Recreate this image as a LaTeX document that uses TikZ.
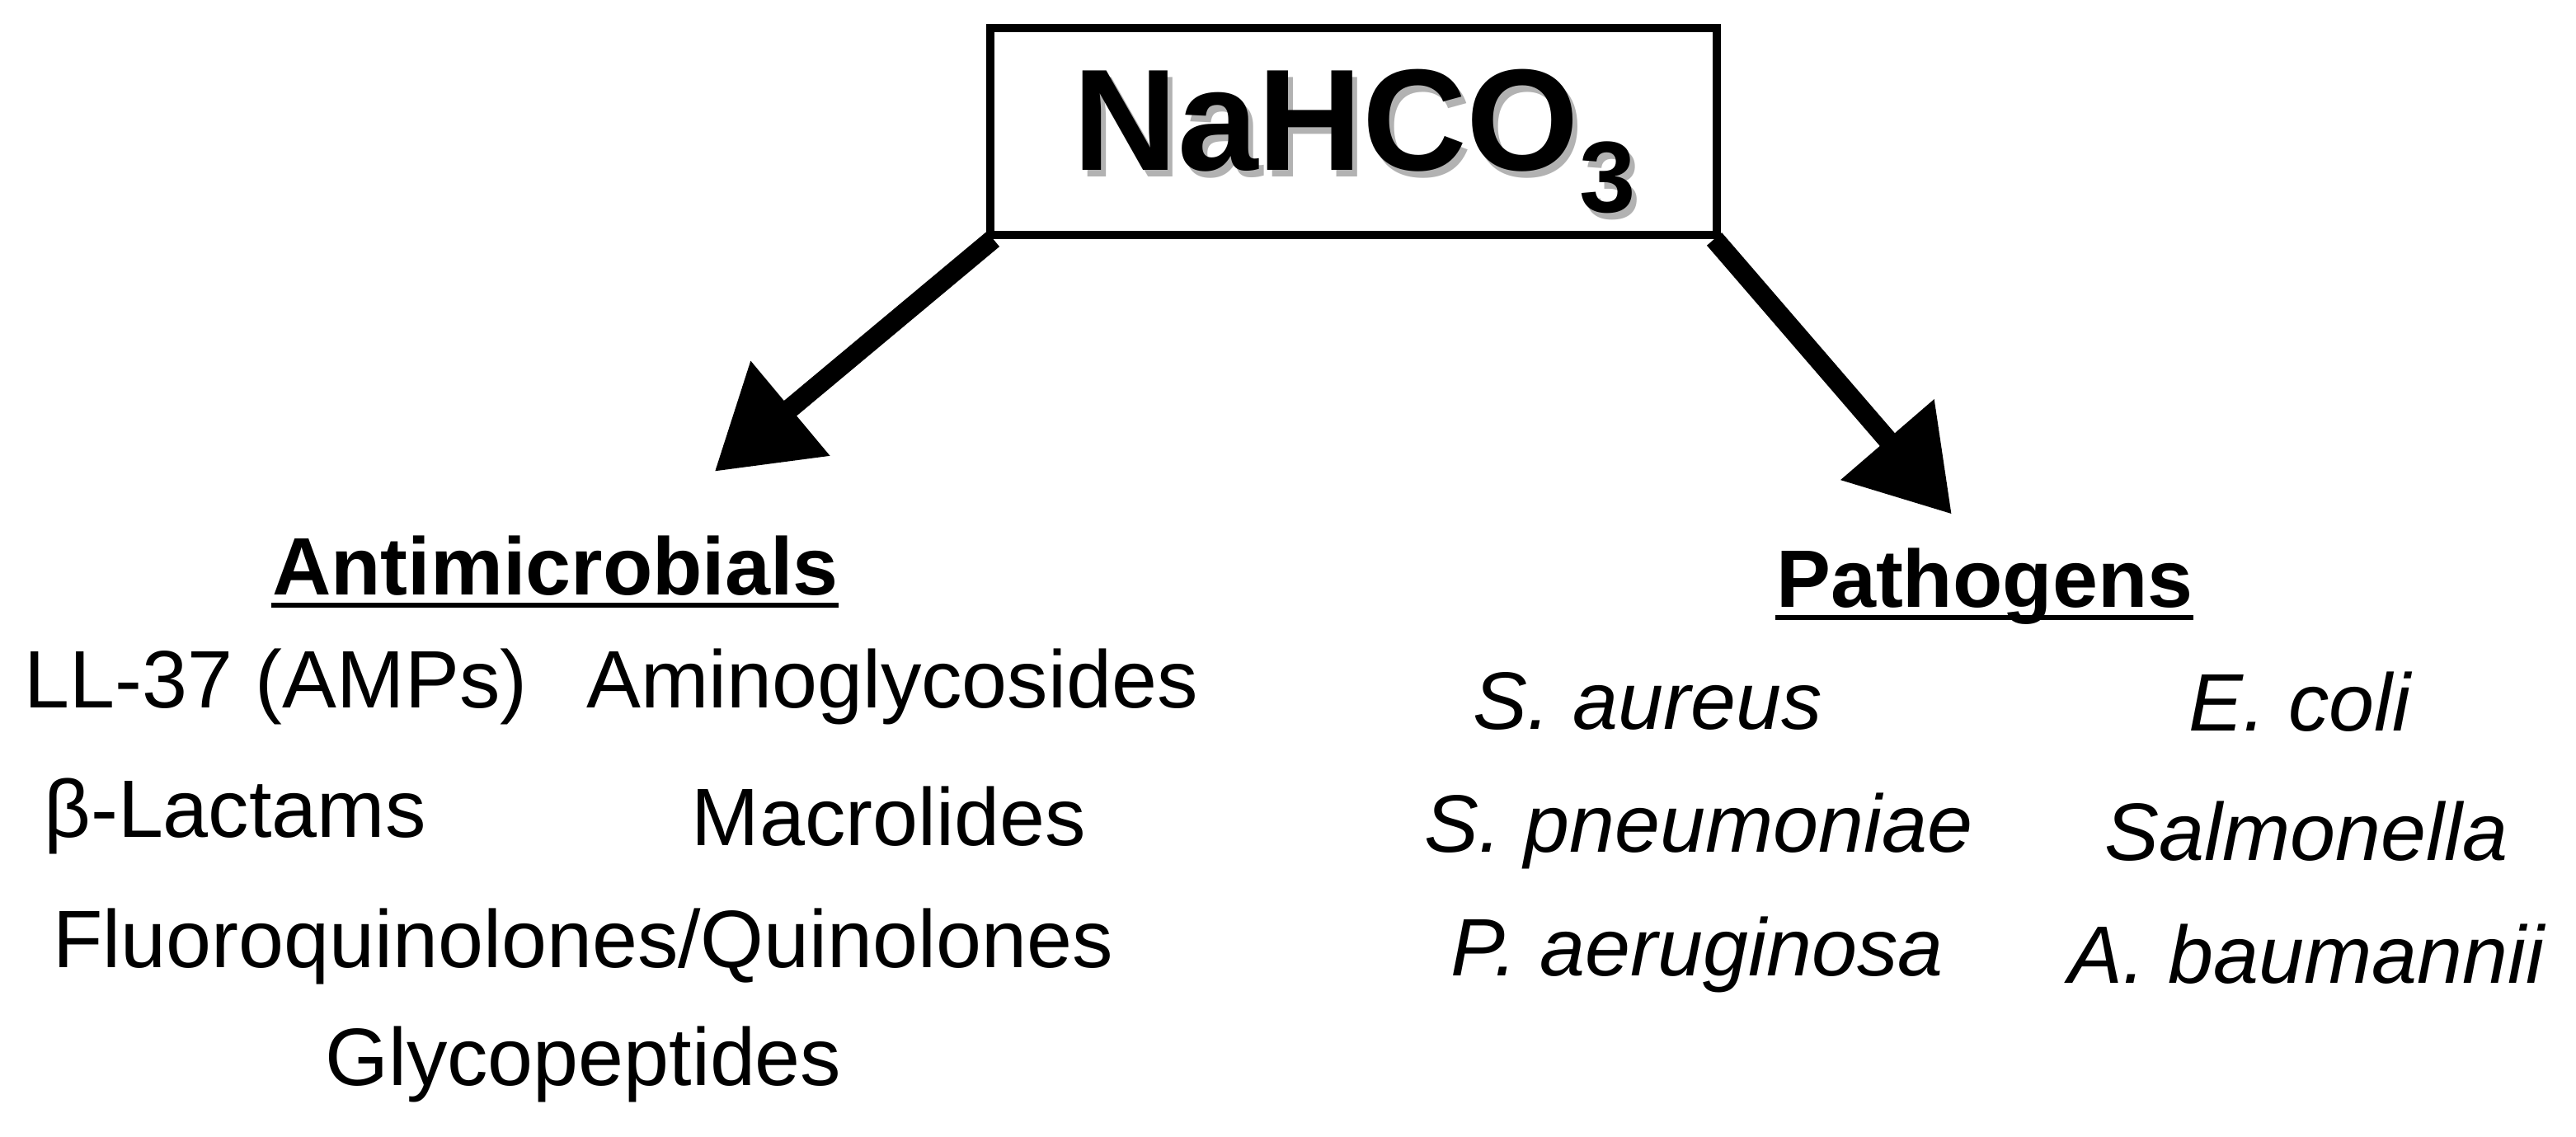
\documentclass[tikz,border=0pt]{standalone}
\usepackage{fontspec}
\setmainfont{Liberation Sans}
\usetikzlibrary{arrows.meta}
\newcommand{\ul}[1]{\tikz[baseline=(u.base)]{\node[inner sep=0](u){#1};\draw[line width=1.5pt]([yshift=-3pt]u.base west)--([yshift=-3pt]u.base east);}}
\begin{document}
\begin{tikzpicture}[x=0.5pt,y=-0.5pt,
  lbl/.style={font=\fontsize{24.8}{28}\selectfont,anchor=center,inner sep=0},
  it/.style={lbl,font=\fontsize{24.8}{28}\selectfont\itshape},
  hd/.style={lbl,font=\fontsize{24.8}{28}\selectfont\bfseries},
  big/.style={line width=6pt,-{Triangle[length=30pt,width=36pt]}}]
\useasboundingbox (0,0) rectangle (1568,692);
\node[draw,line width=2.5pt,minimum width=221pt,minimum height=63pt,inner sep=0] (box) at (824,80) {};
\node[font=\fontsize{44}{48}\selectfont\bfseries,text=gray!60] at (828,90) {NaHCO\textsubscript{3}};
\node[font=\fontsize{44}{48}\selectfont\bfseries] (na) at (825,86) {NaHCO\textsubscript{3}};
\coordinate (la) at (435,287);
\coordinate (ra) at (1188,313);
\draw[big] (box.south west) ++(4,0) -- (la);
\draw[big] (box.south east) ++(-4,0) -- (ra);
\node[hd] (anti) at (338,348) {\ul{Antimicrobials}};
\node[lbl] (a1) at (168,418) {LL-37 (AMPs)};
\node[lbl] (a2) at (543,418) {Aminoglycosides};
\node[lbl] (a3) at (143,497) {β-Lactams};
\node[lbl] (a4) at (541,497) {Macrolides};
\node[lbl] (a5) at (355,576) {Fluoroquinolones/Quinolones};
\node[lbl] (a6) at (355,648) {Glycopeptides};
\node[hd] (path) at (1208,357) {\ul{Pathogens}};
\node[it] (p1) at (1003,427) {S. aureus};
\node[it] (p2) at (1400,427) {E. coli};
\node[it] (p3) at (1034,506) {S. pneumoniae};
\node[it] (p4) at (1404,506) {Salmonella};
\node[it] (p5) at (1033,581) {P. aeruginosa};
\node[it] (p6) at (1404,581) {A. baumannii};
\end{tikzpicture}
\end{document}
